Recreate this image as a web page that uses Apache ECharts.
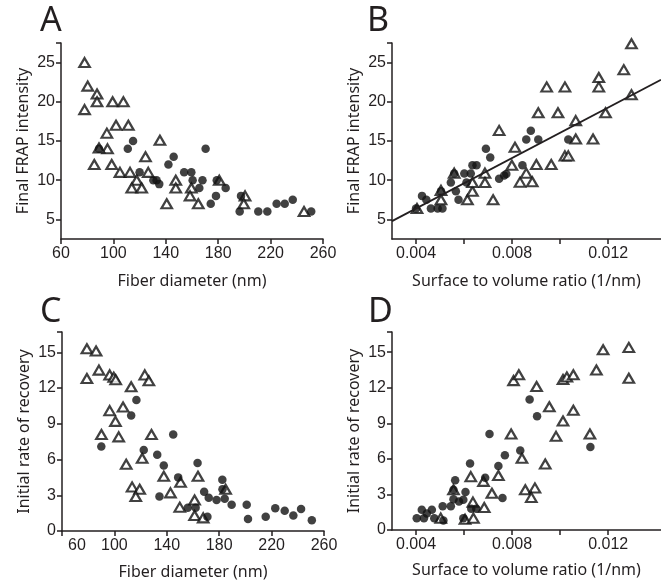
<!DOCTYPE html>
<html>
<head>
<meta charset="utf-8">
<script src="https://cdn.jsdelivr.net/npm/echarts@6/dist/echarts.min.js"></script>
<style>
  html, body { margin: 0; padding: 0; background: #fff; }
  #main { width: 661px; height: 583px; }
</style>
</head>
<body>
<div id="main"></div>
<script>
// tick values
var diamTicks = [60, 100, 140, 180, 220, 260];
var frapTicks = [5, 10, 15, 20, 25];
var ratioTicks = [0.004, 0.008, 0.012];
var ratioMinorTicks = [0.004, 0.006, 0.008, 0.010, 0.012];
var rateTicks = [0, 3, 6, 9, 12, 15];

// A: final FRAP intensity vs fiber diameter
var aDots = [[89,14],[111,14],[115,15],[120,11],[130.5,10],[133,10],[135,9.5],[142,12],[146,13],[154,11],
  [159.5,11],[160.5,10],[168,10],[165.6,9],[170.4,14],[174.3,7],[178.3,8],[178.9,10],[185.7,9],[196.4,6],
  [197.4,8],[210.6,6],[217.5,6],[224.6,7],[230.8,7],[236.9,7.5],[251,6]];
var aTris = [[78,25],[80.4,22],[87.5,21],[87.5,20],[78,19],[99.4,20],[107.6,20],[102,17],[111.4,17],[95,16],
  [95.5,14],[89,14.1],[85.4,12],[98.7,12],[135.5,15.1],[124.5,13],[105,11],[112.7,11],[126.6,11],[117.8,10],
  [114,9],[121.6,9],[147.6,10],[147.6,9],[140.7,7],[159.5,9],[158.5,8],[164.8,7],[180.8,10],[200.5,8],
  [199.5,7],[245.5,6]];

// B: final FRAP intensity vs surface to volume ratio
var bDots = [[0.004,6.4],[0.00425,8.0],[0.00443,7.5],[0.00462,6.4],[0.0049,6.4],[0.0051,6.4],[0.00504,8.6],
  [0.00545,9.7],[0.00559,10.85],[0.00566,8.6],[0.00577,7.5],[0.00601,10.85],[0.00628,10.85],[0.0061,9.7],
  [0.00635,11.9],[0.00652,11.9],[0.00691,14.0],[0.00709,12.9],[0.00746,10.2],[0.00767,10.6],[0.00776,10.8],
  [0.00843,11.9],[0.00859,15.2],[0.00878,16.3],[0.00909,15.2],[0.01034,15.2]];
var bTris = [[0.00404,6.4],[0.00504,7.5],[0.00504,8.7],[0.00559,10.9],[0.00614,7.5],[0.00635,8.6],[0.00635,9.7],
  [0.00687,10.9],[0.00687,9.7],[0.00721,7.5],[0.00746,16.35],[0.00812,14.2],[0.00799,11.9],[0.00833,9.75],
  [0.00859,10.9],[0.00884,9.8],[0.00901,12.0],[0.00963,12.0],[0.0102,13.1],[0.01034,13.1],[0.01065,15.25],
  [0.01137,15.25],[0.01065,17.6],[0.00909,18.6],[0.00991,18.6],[0.01189,18.6],[0.00944,21.9],[0.0102,21.9],
  [0.01161,21.9],[0.01161,23.1],[0.01265,24.1],[0.01297,27.4],[0.01297,20.9]];
var bFit = [[0.003,4.78],[0.0142,22.8]];

// C: initial rate of recovery vs fiber diameter
var cDots = [[90,7.1],[112.8,9.7],[116.8,11],[122.4,6.8],[132.7,6.4],[134.4,2.9],[137.7,5.5],[144.9,8.1],
  [148.7,4.5],[156,1.95],[162,1.95],[163.5,5.7],[168.5,3.3],[171,1.2],[172,2.8],[178,2.6],[182.4,4.3],
  [182.5,3.5],[184.2,2.7],[189.5,2.2],[201,2.2],[202,1.0],[215.5,1.2],[222.8,1.9],[230,1.7],[236.6,1.3],
  [242.5,1.85],[250.7,0.9]];
var cTris = [[79,15.3],[86,15.1],[79,12.8],[88.2,13.5],[96.4,13.1],[99.5,12.9],[101,12.7],[112.8,12.1],
  [123.2,13.1],[126.3,12.6],[96.4,10.1],[106.6,10.4],[100.8,9.2],[90.1,8.1],[103.3,7.9],[128.3,8.1],
  [109,5.6],[121.2,6.1],[137.7,4.6],[113.5,3.7],[119.3,3.5],[116.3,2.9],[142.8,3.2],[149.9,2.0],[150.5,4.1],
  [161.2,2.6],[161.2,1.3],[163.8,4.6],[167.8,1.1],[184.9,3.5]];

// D: initial rate of recovery vs surface to volume ratio
var dDots = [[0.00403,1.0],[0.00424,1.7],[0.00433,1.0],[0.00445,1.4],[0.00466,1.7],[0.00476,1.0],[0.00514,0.8],
  [0.00511,2.0],[0.00545,2.0],[0.00556,2.6],[0.00556,3.4],[0.00563,4.2],[0.00579,2.4],[0.00597,2.55],
  [0.00606,3.2],[0.00597,1.0],[0.0063,1.8],[0.00651,1.8],[0.00625,5.6],[0.00688,4.4],[0.00706,8.1],
  [0.00743,5.4],[0.0076,2.7],[0.0077,6.3],[0.00834,6.7],[0.00873,11.0],[0.00904,9.6],[0.01126,7.0]];
var dTris = [[0.00503,1.0],[0.00556,3.4],[0.00604,0.9],[0.00639,1.0],[0.00637,2.35],[0.00684,1.9],[0.00628,4.5],
  [0.00681,4.1],[0.00743,4.6],[0.00716,3.1],[0.00855,3.4],[0.00895,3.55],[0.0088,2.75],[0.00841,6.05],
  [0.00938,5.57],[0.00796,8.1],[0.00983,7.9],[0.01124,8.1],[0.00955,10.4],[0.01055,10.1],[0.01012,9.2],
  [0.00806,12.6],[0.00828,13.1],[0.00902,12.1],[0.01012,12.7],[0.01028,12.9],[0.01055,13.1],[0.01151,13.5],
  [0.01179,15.2],[0.01286,15.4],[0.01286,12.8]];

var ink = '#231f20';
var labelFont = 'Liberation Sans';
var nameFont = 'Noto Sans';

function xAxis(idx, min, max, ticks, minor, name, extra) {
    var ax = {
        type: 'value', gridIndex: idx, min: min, max: max,
        name: name, nameLocation: 'middle', nameGap: 34,
        nameTextStyle: { fontFamily: nameFont, fontSize: 16, color: ink },
        splitLine: { show: false },
        axisLine: { onZero: false, lineStyle: { color: ink, width: 1.5 } },
        axisTick: { customValues: minor, length: 5, inside: false, lineStyle: { color: ink, width: 1.5 } },
        axisLabel: { customValues: ticks, fontFamily: labelFont, fontSize: 16, color: ink, margin: 7 }
    };
    if (extra) extra(ax);
    return ax;
}

function yAxis(idx, min, max, ticks, name) {
    return {
        type: 'value', gridIndex: idx, min: min, max: max,
        name: name, nameLocation: 'middle', nameGap: 30, nameRotate: 90,
        nameTextStyle: { fontFamily: nameFont, fontSize: 16, color: ink },
        splitLine: { show: false },
        axisLine: { onZero: false, lineStyle: { color: ink, width: 1.5 } },
        axisTick: { customValues: ticks.concat([max]), length: 5, lineStyle: { color: ink, width: 1.5 } },
        axisLabel: { customValues: ticks, fontFamily: labelFont, fontSize: 16, color: ink, margin: 6 }
    };
}

function tris(idx, data) {
    return {
        type: 'scatter', xAxisIndex: idx, yAxisIndex: idx, data: data,
        symbol: 'triangle', symbolSize: [10.5, 9],
        itemStyle: { color: '#fff', borderColor: '#111', borderWidth: 2.2 },
        silent: true, z: 2
    };
}

function dots(idx, data) {
    return {
        type: 'scatter', xAxisIndex: idx, yAxisIndex: idx, data: data,
        symbol: 'circle', symbolSize: 8.5,
        itemStyle: { color: '#111' },
        silent: true, z: 3
    };
}

var myChart = echarts.init(document.getElementById('main'), null, { renderer: 'canvas' });

var panelTitle = function (text, left, top) {
    return { text: text, left: left, top: top, padding: 0,
        textStyle: { fontFamily: nameFont, fontSize: 34, fontWeight: 'normal', color: ink } };
};

var option = {
    animation: false,
    backgroundColor: '#fff',
    title: [
        panelTitle('A', 40, 4),
        panelTitle('B', 367, 4),
        panelTitle('C', 40, 295),
        panelTitle('D', 368, 295)
    ],
    grid: [
        { left: 61, top: 43, width: 262, height: 196 },
        { left: 392, top: 43, width: 269, height: 196 },
        { left: 62, top: 332, width: 262, height: 199 },
        { left: 392, top: 332, width: 269, height: 198 }
    ],
    xAxis: [
        xAxis(0, 60, 260, diamTicks, diamTicks, 'Fiber diameter (nm)'),
        xAxis(1, 0.003, 0.0142, ratioTicks, ratioMinorTicks, 'Surface to volume ratio (1/nm)'),
        xAxis(2, 60, 260, diamTicks, diamTicks, 'Fiber diameter (nm)', function (ax) {
            ax.nameGap = 33;
            // the first label is pushed right so it clears the "0" of the y axis
            ax.axisLabel.formatter = function (v) {
                return v === 60 ? '{pad|60}' : String(v);
            };
            ax.axisLabel.rich = { pad: { padding: [0, 0, 0, 30], fontFamily: labelFont, fontSize: 16, color: ink } };
        }),
        xAxis(3, 0.003, 0.0142, ratioTicks, ratioMinorTicks, 'Surface to volume ratio (1/nm)', function (ax) {
            ax.nameGap = 32;
        })
    ],
    yAxis: [
        yAxis(0, 2.5, 27.5, frapTicks, 'Final FRAP intensity'),
        yAxis(1, 2.5, 27.5, frapTicks, 'Final FRAP intensity'),
        yAxis(2, 0, 16.7, rateTicks, 'Initial rate of recovery'),
        yAxis(3, 0, 16.7, rateTicks, 'Initial rate of recovery')
    ],
    series: [
        tris(0, aTris), dots(0, aDots),
        tris(1, bTris), dots(1, bDots),
        {
            type: 'line', xAxisIndex: 1, yAxisIndex: 1, data: bFit,
            showSymbol: false, symbol: 'none', silent: true, z: 4,
            lineStyle: { color: ink, width: 1.8 }
        },
        tris(2, cTris), dots(2, cDots),
        tris(3, dTris), dots(3, dDots)
    ]
};

myChart.setOption(option);
</script>
</body>
</html>
